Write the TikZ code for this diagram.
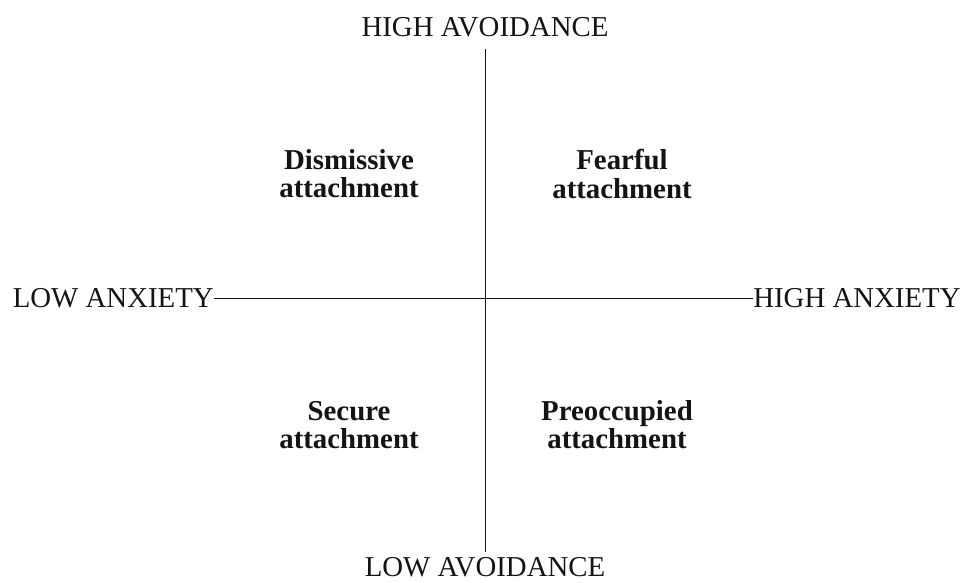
\documentclass[tikz,border=0pt]{standalone}
\usepackage{fontspec}
\setmainfont{Liberation Serif}
\usetikzlibrary{calc,positioning}
\definecolor{axisInk}{RGB}{20,20,20}
\tikzset{
  axislabel/.style={font=\fontsize{20.5}{22}\selectfont,inner sep=0pt,text=axisInk},
  stylelabel/.style={font=\fontsize{20.5}{20}\selectfont\bfseries,align=center,inner sep=0pt,text=axisInk},
  axisline/.style={draw=axisInk,line width=0.7pt}
}

\begin{document}
\begin{tikzpicture}[x=0.025cm,y=-0.025cm]
\useasboundingbox (0,0) rectangle (974,583);
% axes
\coordinate (top) at (485,49);
\coordinate (bottom) at (485,552);
\node[axislabel] (highavoid) at (485,27) {HIGH AVOIDANCE};
\node[axislabel] (lowavoid) at (485,567) {LOW AVOIDANCE};
\node[axislabel,anchor=east] (lowanx) at (214,298) {LOW ANXIETY};
\node[axislabel,anchor=west] (highanx) at (753,298) {HIGH ANXIETY};
\draw[axisline] (top) -- (bottom);
\draw[axisline] (lowanx.east) -- (highanx.west);
% quadrants
\node[stylelabel] (dismissive) at (349,174) {Dismissive\\attachment};
\node[stylelabel] (fearful) at (622,174) {Fearful\\attachment};
\node[stylelabel] (secure) at (349,425) {Secure\\attachment};
\node[stylelabel] (preoccupied) at (617,425) {Preoccupied\\attachment};
\end{tikzpicture}
\end{document}
